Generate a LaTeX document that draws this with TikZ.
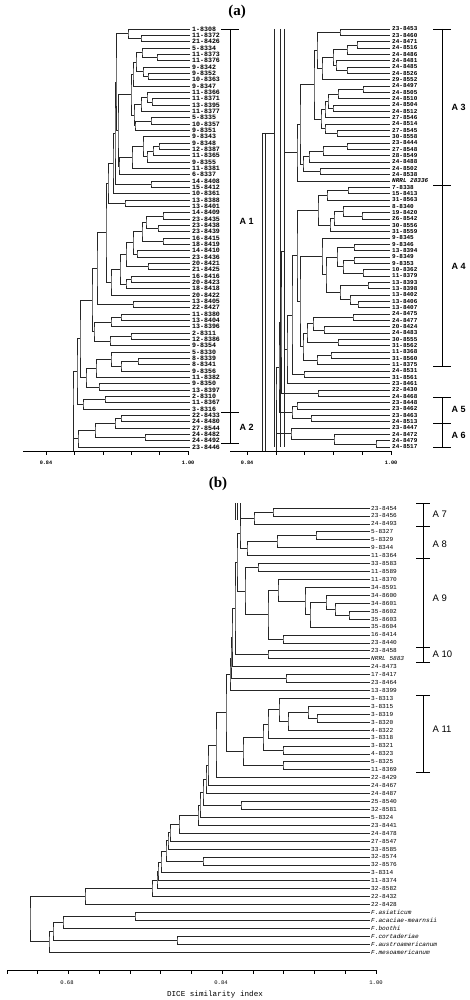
\documentclass[tikz,border=0pt]{standalone}
\usepackage{fontspec}
\setmainfont{Liberation Serif}
\setsansfont{Liberation Sans}
\setmonofont{Liberation Mono}
\usetikzlibrary{calc}
\tikzset{
  br/.style    = {draw=black!85, line width=0.6pt},
  leafa/.style = {anchor=west, inner xsep=2pt, inner ysep=0pt,
                  font=\ttfamily\bfseries\fontsize{6.6}{6.6}\selectfont},
  leafr/.style = {leafa, font=\ttfamily\bfseries\fontsize{6}{6}\selectfont},
  leafb/.style = {anchor=west, inner xsep=1pt, inner ysep=0pt,
                  font=\ttfamily\fontsize{6.1}{6.1}\selectfont},
  grp/.style   = {line width=0.6pt},
  grplbl/.style= {anchor=west, font=\sffamily\bfseries\fontsize{9}{9}\selectfont},
  ax/.style    = {line width=0.6pt},
  tkl/.style   = {anchor=north, font=\ttfamily\bfseries\fontsize{5.2}{5.2}\selectfont},
  ttl/.style   = {font=\bfseries\fontsize{15}{15}\selectfont}
}
\newcommand{\capw}{9pt}
% clade: name, x, upper child, lower child
\newcommand{\clade}[4]{%
  \path ($(#3)!0.5!(#4)$) coordinate (#1m);
  \coordinate (#1) at (#2,0 |- #1m);
  \draw[br] (#3) -| (#1) |- (#4);}
% group bar: name, x, top, bottom, label y, text
\newcommand{\grpbar}[6]{%
  \coordinate (#1t) at (#2,#3);
  \coordinate (#1b) at (#2,#4);
  \draw[grp] ([xshift=-\capw]#1t) -- ([xshift=\capw]#1t)
             (#1t) -- (#1b)
             ([xshift=-\capw]#1b) -- ([xshift=\capw]#1b);
  \node[grplbl] (#1) at (#2+6,#5) {#6};}

\begin{document}
\begin{tikzpicture}[x=1pt,y=-1pt]
  \useasboundingbox (0,0) rectangle (469,1000);
  \node[ttl] (ttla) at (237,12)  {(a)};
  \node[ttl] (ttlb) at (218,484) {(b)};

  % (a) left half
  \foreach \txt [count=\i] in {1-8308, 11-8372, 21-8426, 5-8334, 11-8373,
      11-8376, 9-8342, 9-8352, 10-8363, 9-8347, 11-8366, 11-8371, 13-8395,
      11-8377, 5-8335, 10-8357, 9-8351, 9-8343, 9-8348, 12-8387, 11-8365,
      9-8355, 11-8381, 6-8337, 14-8408, 15-8412, 10-8361, 13-8388, 13-8401,
      14-8409, 23-8435, 23-8438, 23-8439, 16-8415, 18-8419, 14-8410, 23-8436,
      20-8421, 21-8425, 16-8416, 20-8423, 18-8418, 20-8422, 13-8405, 22-8427,
      11-8380, 13-8404, 13-8396, 2-8311, 12-8386, 9-8354, 5-8330, 8-8339,
      8-8341, 9-8356, 11-8382, 9-8350, 13-8397, 2-8310, 11-8367, 3-8316,
      22-8433, 24-8480, 27-8544, 24-8482, 24-8492, 23-8446} {
    \coordinate (L\i) at (190,{29+(\i-1)*6.333});
    \node[leafa] (L\i-t) at (L\i) {\txt};
  }
  \clade{a1}{141}{L2}{L3}
  \clade{a2}{128}{L1}{a1}
  \clade{b1}{157}{L5}{L6}
  \clade{b2}{142}{L4}{b1}
  \clade{b3}{148}{L8}{L9}
  \clade{b4}{143}{L7}{b3}
  \clade{b5}{136}{b2}{b4}
  \clade{b6}{133}{b5}{L10}
  \clade{c1}{152}{L12}{L13}
  \clade{c2}{147}{L11}{c1}
  \clade{c3}{141}{c2}{L14}
  \clade{c4}{151}{L15}{L16}
  \clade{c5}{135}{c4}{L17}
  \clade{c6}{134}{c3}{c5}
  \clade{d1}{131}{b6}{c6}
  \clade{e1}{159}{L19}{L20}
  \clade{e2}{153}{e1}{L21}
  \clade{e3}{147}{e2}{L22}
  \clade{e4}{143}{L18}{e3}
  \clade{e5}{132}{e4}{L23}
  \clade{e6}{119}{e5}{L24}
  \clade{h0}{118}{d1}{e6}
  \clade{h1}{116}{a2}{h0}
  \clade{f1}{151}{L25}{L26}
  \clade{h2}{115}{h1}{f1}
  \clade{h3}{113}{h2}{L27}
  \clade{g1}{125}{L28}{L29}
  \clade{h4}{108}{h3}{g1}
  \clade{i1}{163}{L30}{L31}
  \clade{i2}{158}{L32}{L33}
  \clade{i3}{146}{i1}{i2}
  \clade{i4}{163}{L34}{L35}
  \clade{i5}{142}{i3}{i4}
  \clade{i6}{137}{L36}{L37}
  \clade{i7}{133}{i5}{i6}
  \clade{i8}{148}{L38}{L39}
  \clade{i9}{126}{i7}{i8}
  \clade{i10}{131}{L40}{L41}
  \clade{i11}{126}{i10}{L42}
  \clade{i12}{120}{i9}{i11}
  \clade{i13}{111}{i12}{L43}
  \clade{j1}{106}{h4}{i13}
  \clade{k1}{133}{L44}{L45}
  \clade{m1}{97}{j1}{k1}
  \clade{k2}{121}{L46}{L47}
  \clade{k3}{111}{k2}{L48}
  \clade{k4}{131}{L49}{L50}
  \clade{k5}{110}{k4}{L51}
  \clade{k6}{94}{k3}{k5}
  \clade{m2}{92}{m1}{k6}
  \clade{k7}{138}{L53}{L54}
  \clade{k8}{121}{k7}{L55}
  \clade{k9}{111}{L52}{k8}
  \clade{k10}{96}{k9}{L56}
  \clade{k11}{99}{L57}{L58}
  \clade{k12}{86}{k10}{k11}
  \clade{k13}{80}{m2}{k12}
  \clade{n1}{105}{L59}{L60}
  \clade{n2}{83}{n1}{L61}
  \clade{k14}{77}{k13}{n2}
  \clade{p1}{121}{L62}{L63}
  \clade{p2}{115}{p1}{L64}
  \clade{p3}{145}{L65}{L66}
  \clade{p4}{95}{p2}{p3}
  \clade{p5}{78}{p4}{L67}
  \clade{rootL}{73}{k14}{p5}

  \coordinate (axL1) at (23,451);
  \coordinate (axL2) at (188,451);
  \draw[br] (rootL) -- (rootL |- axL1);
  \draw[ax] (axL1) -- (axL2);
  \foreach \k in {0,...,5} \draw[ax] (46+\k*28.4,451) -- ++(0,4);
  \node[tkl] (axL-a) at (46,457)  {0.84};
  \node[tkl] (axL-b) at (188,457) {1.00};
  \grpbar{A1}{230}{29}{412}{221}{A 1}
  \grpbar{A2}{230}{412}{443}{427}{A 2}

  % (a) right half
  \foreach \txt [count=\i] in {23-8453, 23-8460, 24-8471, 24-8516, 24-8486,
      24-8481, 24-8485, 24-8526, 29-8552, 24-8497, 24-8505, 24-8510, 24-8504,
      24-8512, 27-8546, 24-8514, 27-8545, 30-8558, 23-8444, 27-8548, 28-8549,
      24-8488, 24-8502, 24-8538, \textit{NRRL 28336}, 7-8338, 15-8413, 31-8563,
      8-8340, 19-8420, 26-8542, 30-8556, 31-8559, 9-8345, 9-8346, 13-8394,
      9-8349, 9-8353, 10-8362, 11-8379, 13-8393, 13-8398, 13-8402, 13-8406,
      13-8407, 24-8475, 24-8477, 20-8424, 24-8483, 30-8555, 31-8562, 11-8368,
      31-8560, 11-8375, 24-8531, 31-8561, 23-8461, 22-8430, 24-8468, 23-8448,
      23-8462, 23-8463, 24-8513, 23-8447, 24-8472, 24-8479, 24-8517} {
    \coordinate (R\i) at (390,{29+(\i-1)*6.333});
    \node[leafr] (R\i-t) at (R\i) {\txt};
  }
  \clade{q1}{357}{R3}{R4}
  \clade{q2}{347}{q1}{R5}
  \clade{q3}{347}{R7}{R8}
  \clade{q4}{336}{R6}{q3}
  \clade{q5}{333}{q2}{q4}
  \clade{q6}{322}{q5}{R9}
  \clade{q7}{340}{R1}{R2}
  \clade{q8}{317}{q7}{q6}
  \clade{r1}{363}{R10}{R11}
  \clade{r2}{338}{r1}{R12}
  \clade{r3}{333}{R13}{R14}
  \clade{r4}{328}{r2}{r3}
  \clade{r5}{325}{r4}{R15}
  \clade{r6}{337}{R17}{R18}
  \clade{r7}{325}{R16}{r6}
  \clade{r8}{321}{r5}{r7}
  \clade{r9}{314}{q8}{r8}
  \clade{s1}{347}{R19}{R20}
  \clade{s2}{323}{s1}{R21}
  \clade{s3}{309}{s2}{R22}
  \clade{s4}{320}{R23}{R24}
  \clade{s5}{303}{s3}{s4}
  \clade{s6}{300}{r9}{s5}
  \clade{s7}{297}{s6}{R25}
  \clade{t1}{348}{R26}{R27}
  \clade{t2}{327}{t1}{R28}
  \clade{t3}{362}{R30}{R31}
  \clade{t4}{343}{R29}{t3}
  \clade{t5}{334}{t4}{R32}
  \clade{t6}{330}{t5}{R33}
  \clade{t7}{318}{t2}{t6}
  \clade{u1}{354}{R35}{R36}
  \clade{u2}{354}{R37}{R38}
  \clade{u3}{363}{R39}{R40}
  \clade{u4}{343}{u2}{u3}
  \clade{u5}{337}{u1}{u4}
  \clade{u6}{368}{R41}{R42}
  \clade{u7}{358}{R44}{R45}
  \clade{u8}{350}{R43}{u7}
  \clade{u9}{340}{u6}{u8}
  \clade{u10}{326}{u5}{u9}
  \clade{u11}{322}{R34}{u10}
  \clade{v1}{353}{R46}{R47}
  \clade{v2}{324}{R48}{R49}
  \clade{v3}{313}{v1}{v2}
  \clade{v4}{338}{R50}{R51}
  \clade{v5}{307}{v3}{v4}
  \clade{w1}{331}{R52}{R53}
  \clade{w2}{317}{w1}{R54}
  \clade{w3}{303}{v5}{w2}
  \clade{x1}{300}{u11}{w3}
  \clade{x2}{297}{t7}{x1}
  \clade{x3}{304}{R55}{R56}
  \clade{x4}{292}{x2}{x3}
  \clade{x5}{287}{x4}{R57}
  \clade{x6}{284}{s7}{x5}
  \clade{y1}{318}{R58}{R59}
  \clade{x7}{281}{x6}{y1}
  \clade{z1}{297}{R60}{R61}
  \clade{z2}{311}{R62}{R63}
  \clade{z3}{292}{z1}{z2}
  \clade{x8}{279}{x7}{z3}
  \clade{z4}{376}{R66}{R67}
  \clade{z5}{334}{R65}{z4}
  \clade{z6}{291}{R64}{z5}
  \clade{x9}{276}{x8}{z6}

  \coordinate (axR1) at (230,451);
  \coordinate (axR2) at (391,451);
  \draw[br] (x9) -- (x9 |- axR1);
  \foreach \sx in {274,280,284} \draw[br] (\sx,29) -- (\sx,447);
  \foreach \sx in {262,265} \draw[br] (\sx,133) -- (\sx,451);
  \draw[br] (262,133) -- (274,133);
  \draw[ax] (axR1) -- (axR2);
  \foreach \k in {0,...,5} \draw[ax] (247+\k*28.8,451) -- ++(0,4);
  \node[tkl] (axR-a) at (247,457) {0.84};
  \node[tkl] (axR-b) at (391,457) {1.00};
  \grpbar{A3}{442}{29}{185}{107}{A 3}
  \grpbar{A4}{442}{185}{366}{266}{A 4}
  \grpbar{A5}{442}{397}{423}{409}{A 5}
  \grpbar{A6}{442}{423}{447}{435}{A 6}

  % (b)
  \foreach \txt [count=\i] in {23-8454, 23-8456, 24-8493, 5-8327, 5-8329,
      9-8344, 11-8364, 33-8583, 11-8589, 11-8370, 34-8591, 34-8600, 34-8601,
      35-8602, 35-8603, 35-8604, 16-8414, 23-8440, 23-8458, \textit{NRRL 5883},
      24-8473, 17-8417, 23-8464, 13-8399, 3-8313, 3-8315, 3-8319, 3-8320,
      4-8322, 3-8318, 3-8321, 4-8323, 5-8325, 11-8369, 22-8429, 24-8467,
      24-8487, 25-8540, 32-8581, 5-8324, 23-8441, 24-8478, 27-8547, 33-8585,
      32-8574, 32-8576, 3-8314, 11-8374, 32-8582, 22-8432, 22-8428,
      \textit{F.asiaticum}, \textit{F.acaciae-mearnsii}, \textit{F.boothi},
      \textit{F.cortaderiae}, \textit{F.austroamericanum},
      \textit{F.mesoamericanum}} {
    \coordinate (B\i) at (370,{508+(\i-1)*7.93});
    \node[leafb] (B\i-t) at (B\i) {\txt};
  }
  \clade{ba1}{273}{B1}{B2}
  \clade{ba2}{254}{ba1}{B3}
  \clade{bb1}{316}{B4}{B5}
  \clade{bb2}{277}{bb1}{B6}
  \clade{bb3}{247}{bb2}{B7}
  \clade{bc1}{240}{ba2}{bb3}
  \clade{bd1}{258}{B8}{B9}
  \clade{bd2}{349}{B14}{B15}
  \clade{bd3}{335}{B13}{bd2}
  \clade{bd4}{326}{B12}{bd3}
  \clade{bd5}{310}{bd4}{B16}
  \clade{bd6}{305}{B11}{bd5}
  \clade{bd7}{278}{B10}{bd6}
  \clade{bd8}{283}{B17}{B18}
  \clade{bd9}{268}{bd7}{bd8}
  \clade{bd10}{245}{bd1}{bd9}
  \clade{bc2}{237}{bc1}{bd10}
  \clade{be1}{268}{B19}{B20}
  \clade{bc3}{235}{bc2}{be1}
  \clade{bc4}{232}{bc3}{B21}
  \clade{bf1}{286}{B22}{B23}
  \clade{bc5}{231}{bc4}{bf1}
  \clade{bc6}{230}{bc5}{B24}
  \clade{bg1}{317}{B27}{B28}
  \clade{bg2}{308}{B26}{bg1}
  \clade{bg3}{288}{bg2}{B29}
  \clade{bg4}{279}{B25}{bg3}
  \clade{bg5}{268}{bg4}{B30}
  \clade{bg6}{283}{B31}{B32}
  \clade{bg7}{263}{bg5}{bg6}
  \clade{bg8}{283}{B33}{B34}
  \clade{bg9}{243}{bg7}{bg8}
  \clade{bh1}{226}{bc6}{bg9}
  \clade{bh2}{216}{bh1}{B35}
  \clade{bh3}{208}{bh2}{B36}
  \clade{bh4}{206}{bh3}{B37}
  \clade{bi1}{241}{B38}{B39}
  \clade{bh5}{203}{bh4}{bi1}
  \clade{bh6}{200}{bh5}{B40}
  \clade{bh7}{198}{bh6}{B41}
  \clade{bh8}{179}{bh7}{B42}
  \clade{bh9}{170}{bh8}{B43}
  \clade{bh10}{168}{bh9}{B44}
  \clade{bj1}{203}{B45}{B46}
  \clade{bh11}{166}{bh10}{bj1}
  \clade{bh12}{161}{bh11}{B47}
  \clade{bh13}{158}{bh12}{B48}
  \clade{bh14}{157}{bh13}{B49}
  \clade{bh15}{152}{bh14}{B50}
  \clade{bh16}{85}{bh15}{B51}
  \clade{bk1}{135}{B52}{B53}
  \clade{bk2}{63}{bk1}{B54}
  \clade{bk3}{177}{B55}{B56}
  \clade{bk4}{53}{bk2}{bk3}
  \clade{bk5}{49}{bk4}{B57}
  \clade{rootB}{30}{bh16}{bk5}
  \foreach \sx in {235,237,240} \draw[br] (\sx,503) -- (\sx,520);

  \begin{scope}[grplbl/.style={anchor=west, font=\sffamily\fontsize{9.5}{9.5}\selectfont}]
    \renewcommand{\capw}{7pt}
    \grpbar{A7}{423}{503}{526}{514}{A 7}
    \grpbar{A8}{423}{526}{558}{544}{A 8}
    \grpbar{A9}{423}{558}{647}{598}{A 9}
    \grpbar{A10}{423}{647}{662}{654}{A 10}
    \grpbar{A11}{423}{695}{772}{729}{A 11}
  \end{scope}

  \coordinate (axB1) at (7,970);
  \coordinate (axB2) at (376,970);
  \draw[ax] (axB1) -- (axB2);
  \foreach \k in {0,...,12} \draw[ax] (7+\k*30.75,970) -- ++(0,4);
  \node[tkl, font=\ttfamily\fontsize{5.5}{5.5}\selectfont] (axB-a) at (67,977)  {0.68};
  \node[tkl, font=\ttfamily\fontsize{5.5}{5.5}\selectfont] (axB-b) at (221,977) {0.84};
  \node[tkl, font=\ttfamily\fontsize{5.5}{5.5}\selectfont] (axB-c) at (376,977) {1.00};
  \node[font=\ttfamily\fontsize{7.6}{7.6}\selectfont] (dice) at (215,995) {DICE similarity index};
\end{tikzpicture}
\end{document}
